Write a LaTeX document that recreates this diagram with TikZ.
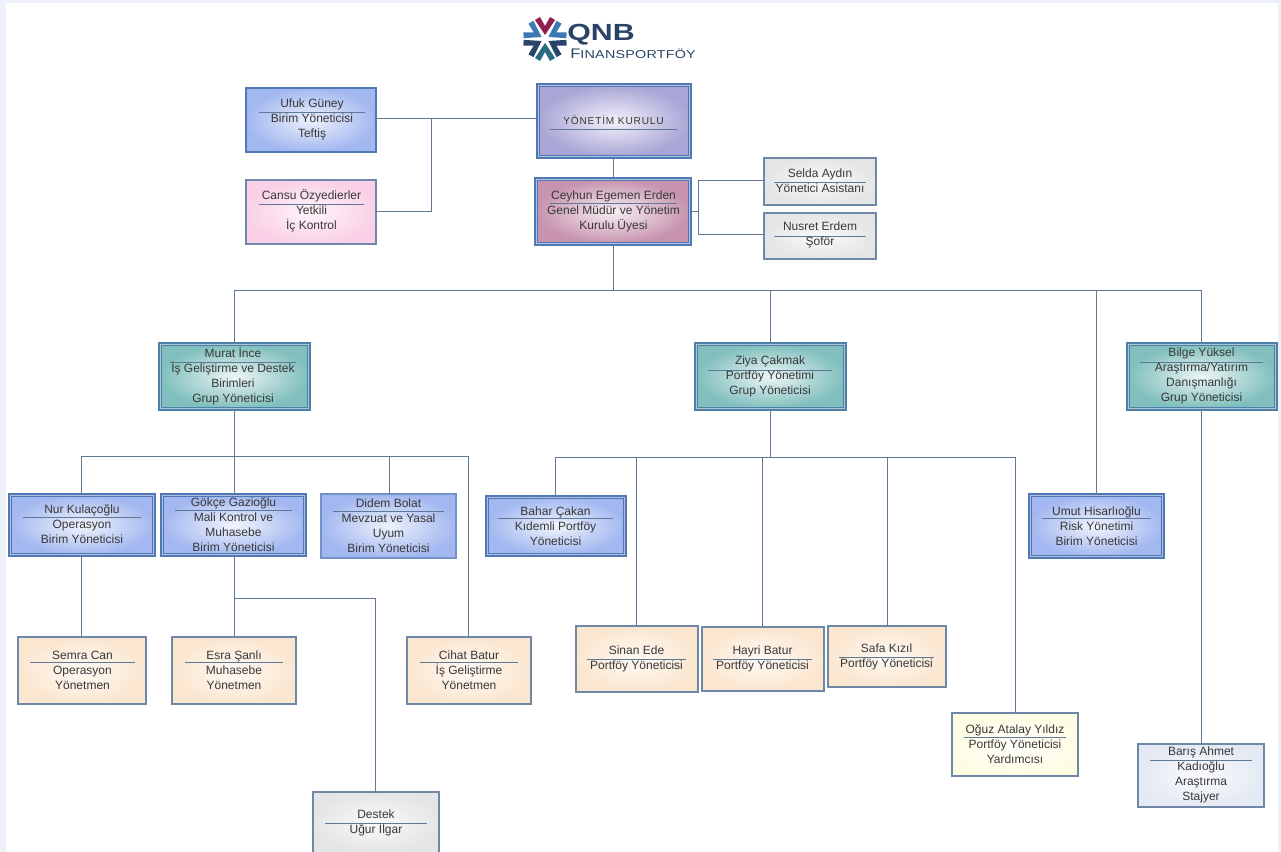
\documentclass[tikz,border=0pt]{standalone}
\usepackage{fontspec}
\setmainfont{Liberation Sans}
\definecolor{linec}{HTML}{5F7896}
\definecolor{bluebd}{HTML}{4F78B4}
\definecolor{bluefill}{HTML}{A3B8F0}
\definecolor{tealbd}{HTML}{4C80A8}
\definecolor{tealfill}{HTML}{80BFBD}
\definecolor{purpfill}{HTML}{A9A5D6}
\definecolor{rosefill}{HTML}{C793AE}
\definecolor{pinkfill}{HTML}{FAD0E6}
\definecolor{peachfill}{HTML}{FBE6CF}
\definecolor{creamfill}{HTML}{FFFCE4}
\definecolor{greyfill}{HTML}{E4E5E6}
\definecolor{paleblue}{HTML}{E4E9F3}
\definecolor{greybd}{HTML}{6F88A8}
\definecolor{edgec}{HTML}{EDF1FA}
\definecolor{logon}{HTML}{2A4468}
\definecolor{logor}{HTML}{8E1F4E}
\definecolor{logob}{HTML}{3C78B4}
\definecolor{logot}{HTML}{2A6A80}
\tikzset{
  x=0.75pt,y=-0.75pt,
  conn/.style={draw=linec,line width=0.75pt},
  rulel/.style={draw=linec,line width=0.6pt},
  boxbase/.style={anchor=north west,inner sep=0pt},
  plainb/.style args={#1/#2}{boxbase,outer sep=0pt,draw=#1,line width=0.8pt,shading=radial,inner color=white!80!#2,outer color=#2},
  doubleb/.style args={#1/#2}{boxbase,outer sep=1.8pt,draw=#1,line width=0.85pt,double=white!55!#1,double distance=1.3pt,shading=radial,inner color=white!85!#2,outer color=#2},
  bluesingle/.style={plainb=bluebd/bluefill},
  bluedidem/.style={plainb=bluebd/bluefill,line width=1.4pt,draw=bluebd!80},
  bluedouble/.style={doubleb=bluebd/bluefill},
  teal/.style={doubleb=tealbd/tealfill},
  purp/.style={doubleb=bluebd/purpfill},
  rose/.style={doubleb=bluebd/rosefill},
  pinkb/.style={plainb=greybd/pinkfill},
  peach/.style={plainb=greybd/peachfill},
  cream/.style={plainb=greybd/creamfill},
  greyb/.style={plainb=greybd/greyfill},
  paleb/.style={plainb=greybd/paleblue},
  txt/.style={align=center,font=\fontsize{9pt}{11.2pt}\selectfont,text=black!78,inner sep=0pt,yshift=-0.75pt},
}
\def\ins{0pt}
\newcommand{\dbl}{\gdef\ins{3.6pt}}
\newcommand{\card}[9]{% id style l t r b cy ruley text
  \node[#2,minimum width=\dimexpr #5pt*3/4-#3pt*3/4-\ins\relax,minimum height=\dimexpr #6pt*3/4-#4pt*3/4-\ins\relax] (#1) at (#3,#4) {};
  \draw[rulel] (\rxa,#8) -- (\rxb,#8);
  \node[txt] (#1-t) at (\fpeval{(\rxa+\rxb)/2},#7) {#9};
  \gdef\ins{0pt}%
}
\newcommand{\rx}[2]{\def\rxa{#1}\def\rxb{#2}}
\begin{document}
\begin{tikzpicture}
\useasboundingbox (0,0) rectangle (1281,852);
\fill[white] (0,0) rectangle (1281,852);
\fill[edgec] (0,0) rectangle (1281,3);
\fill[edgec] (0,0) rectangle (6,852);
\fill[edgec] (1278,0) rectangle (1281,852);

% logo
\begin{scope}[shift={(545,39)}]
  \foreach \a/\c in {90/logor,270/logot,30/logob,150/logob,210/logon,330/logon}{
    \fill[\c,rotate=\a] (4,0) -- (19,-10) -- (22,-5) -- (13,0) -- (22,5) -- (19,10) -- cycle;
  }
\end{scope}
\node[inner sep=0pt,anchor=west,text=logon,font=\fontsize{17.5pt}{18pt}\selectfont\bfseries\addfontfeature{FakeStretch=1.3}] (logoa) at (567,35) {QNB};
\node[inner sep=0pt,anchor=west,text=logon,font=\fontsize{10.4pt}{12pt}\selectfont\addfontfeature{FakeStretch=1.2}] (logob) at (570,54) {F{\fontsize{8.6pt}{12pt}\selectfont\addfontfeature{FakeStretch=1.25,LetterSpace=2}INANSPORTFÖY}};

% boxes
\rx{259}{365}\card{ufuk}{bluesingle}{246}{88}{376}{152}{118}{112}{Ufuk Güney\\Birim Yöneticisi\\Teftiş}
\rx{259}{364}\card{cansu}{pinkb}{246}{180}{376}{244}{210}{204}{Cansu Özyedierler\\Yetkili\\İç Kontrol}
\rx{550}{677}\dbl\card{yk}{purp}{536}{83}{692}{159}{119}{129}{\addfontfeature{LetterSpace=8}\fontsize{7.6pt}{11pt}\selectfont YÖNETİM KURULU}
\rx{550}{677}\dbl\card{ceo}{rose}{534}{177}{692}{246}{210}{203}{Ceyhun Egemen Erden\\Genel Müdür ve Yönetim\\Kurulu Üyesi}
\rx{774}{866}\card{selda}{greyb}{764}{158}{876}{205}{180}{182}{Selda Aydın\\Yönetici Asistanı}
\rx{774}{866}\card{nusret}{greyb}{764}{213}{876}{259}{234}{236}{Nusret Erdem\\Şoför}
\rx{170}{296}\dbl\card{murat}{teal}{158}{342}{311}{411}{375}{362}{Murat İnce\\İş Geliştirme ve Destek\\Birimleri\\Grup Yöneticisi}
\rx{708}{832}\dbl\card{ziya}{teal}{694}{342}{847}{411}{375}{370}{Ziya Çakmak\\Portföy Yönetimi\\Grup Yöneticisi}
\rx{1140}{1263}\dbl\card{bilge}{teal}{1126}{342}{1278}{411}{375}{362}{Bilge Yüksel\\Araştırma/Yatırım\\Danışmanlığı\\Grup Yöneticisi}
\rx{23}{141}\dbl\card{nur}{bluedouble}{8}{493}{156}{557}{523}{517}{Nur Kulaçoğlu\\Operasyon\\Birim Yöneticisi}
\rx{175}{292}\dbl\card{gokce}{bluedouble}{160}{493}{307}{557}{524}{510}{Gökçe Gazioğlu\\Mali Kontrol ve\\Muhasebe\\Birim Yöneticisi}
\rx{333}{444}\card{didem}{bluedidem}{321}{494}{456}{558}{525}{511}{Didem Bolat\\Mevzuat ve Yasal\\Uyum\\Birim Yöneticisi}
\rx{498}{613}\dbl\card{bahar}{bluedouble}{485}{495}{627}{557}{525}{518}{Bahar Çakan\\Kıdemli Portföy\\Yöneticisi}
\rx{1042}{1151}\dbl\card{umut}{bluedouble}{1028}{493}{1165}{559}{525}{518}{Umut Hisarlıoğlu\\Risk Yönetimi\\Birim Yöneticisi}
\rx{30}{135}\card{semra}{peach}{18}{637}{146}{704}{669}{662}{Semra Can\\Operasyon\\Yönetmen}
\rx{185}{283}\card{esra}{peach}{172}{637}{296}{704}{669}{662}{Esra Şanlı\\Muhasebe\\Yönetmen}
\rx{420}{518}\card{cihat}{peach}{407}{637}{531}{704}{669}{662}{Cihat Batur\\İş Geliştirme\\Yönetmen}
\rx{587}{686}\card{sinan}{peach}{576}{626}{698}{692}{658}{659}{Sinan Ede\\Portföy Yöneticisi}
\rx{713}{812}\card{hayri}{peach}{702}{627}{824}{691}{658}{659}{Hayri Batur\\Portföy Yöneticisi}
\rx{839}{934}\card{safa}{peach}{828}{626}{946}{687}{656}{657}{Safa Kızıl\\Portföy Yöneticisi}
\rx{964}{1066}\card{oguz}{cream}{952}{713}{1078}{776}{743}{737}{Oğuz Atalay Yıldız\\Portföy Yöneticisi\\Yardımcısı}
\rx{1150}{1252}\card{baris}{paleb}{1138}{744}{1264}{807}{774}{760}{Barış Ahmet\\Kadıoğlu\\Araştırma\\Stajyer}
\rx{325}{427}\card{destek}{greyb}{313}{792}{439}{853}{822}{823}{Destek\\Uğur Ilgar}

% junctions
\coordinate (j1) at (431,119);
\coordinate (j2) at (698,212);
\coordinate (j3) at (613,291);
\coordinate (j4) at (234,456);
\coordinate (j5) at (234,598);
\coordinate (j6) at (770,457);

% connectors
\draw[conn] (yk.south -| j3) -- (ceo.north -| j3);
\draw[conn] (ufuk.east |- j1) -- (yk.west |- j1);
\draw[conn] (j1) |- (cansu.east |- 0,212);
\draw[conn] (ceo.east |- j2) -- (j2);
\draw[conn] (selda.west |- 0,181) -| (j2);
\draw[conn] (nusret.west |- 0,235) -| (j2);
\draw[conn] (ceo.south -| j3) -- (j3);
\coordinate (a1) at (1201.5,291);
\draw[conn] (murat.north -| j4) |- (a1) -- (bilge.north -| a1);
\draw[conn] (ziya.north -| j6) -- (j6 |- j3);
\coordinate (a2) at (1096,291);
\draw[conn] (a2) -- (umut.north -| a2);
\draw[conn] (murat.south -| j4) -- (gokce.north -| j4);
\coordinate (b1) at (81,456);
\coordinate (b2) at (389,456);
\coordinate (b3) at (468,456);
\draw[conn] (nur.north -| b1) |- (b3) -- (cihat.north -| b3);
\draw[conn] (b2) -- (didem.north -| b2);
\draw[conn] (nur.south -| b1) -- (semra.north -| b1);
\draw[conn] (gokce.south -| j5) -- (esra.north -| j5);
\coordinate (c1) at (375,598);
\draw[conn] (j5) -| (destek.north -| c1);
\draw[conn] (ziya.south -| j6) -- (j6);
\coordinate (d1) at (555,457);
\coordinate (d2) at (636,457);
\coordinate (d3) at (762,457);
\coordinate (d4) at (887,457);
\coordinate (d5) at (1015,457);
\draw[conn] (bahar.north -| d1) |- (d5) -- (oguz.north -| d5);
\draw[conn] (d2) -- (sinan.north -| d2);
\draw[conn] (d3) -- (hayri.north -| d3);
\draw[conn] (d4) -- (safa.north -| d4);
\draw[conn] (bilge.south -| a1) -- (baris.north -| a1);
\end{tikzpicture}
\end{document}
